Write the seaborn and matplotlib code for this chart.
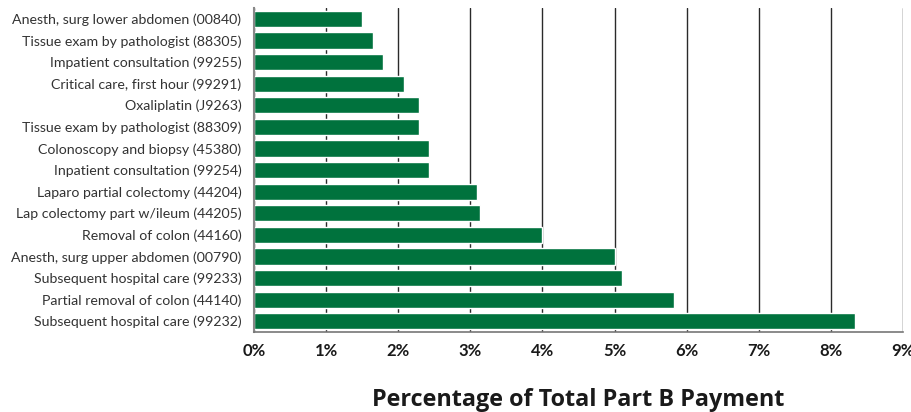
import matplotlib
matplotlib.use("Agg")
import matplotlib.pyplot as plt
import seaborn as sns
import pandas as pd
import numpy as np

procedures = [
    "Anesth, surg lower abdomen (00840)",
    "Tissue exam by pathologist (88305)",
    "Impatient consultation (99255)",
    "Critical care, first hour (99291)",
    "Oxaliplatin (J9263)",
    "Tissue exam by pathologist (88309)",
    "Colonoscopy and biopsy (45380)",
    "Inpatient consultation (99254)",
    "Laparo partial colectomy (44204)",
    "Lap colectomy part w/ileum (44205)",
    "Removal of colon (44160)",
    "Anesth, surg upper abdomen (00790)",
    "Subsequent hospital care (99233)",
    "Partial removal of colon (44140)",
    "Subsequent hospital care (99232)",
]
pct = [1.50, 1.65, 1.79, 2.08, 2.29, 2.29, 2.43, 2.43, 3.09, 3.14, 4.00, 5.00, 5.11, 5.83, 8.33]
xticks = list(range(0, 10))
xtick_labels = [f"{t}%" for t in xticks]

df = pd.DataFrame({"proc": procedures, "pct": pct})

sns.set_style("white")
plt.rcParams["font.family"] = ["Lato", "DejaVu Sans"]

fig = plt.figure(figsize=(9.12, 4.12), dpi=100)
ax = fig.add_axes([254 / 912, 80 / 412, (903 - 254) / 912, (404 - 80) / 412])

sns.barplot(data=df, x="pct", y="proc", orient="h", color="#00723d",
            saturation=1, width=0.75, ax=ax, zorder=2)

ax.set_xlim(0, 9)
ax.set_ylim(14.5, -0.5)
ax.set_xticks(xticks)
ax.set_xticklabels(xtick_labels, fontsize=12, fontweight="bold", color="#1a1a1a")
ax.xaxis.grid(True, color="#2a2a2a", linewidth=1.0, zorder=0)
ax.set_axisbelow(True)
ax.yaxis.grid(False)

ax.tick_params(axis="y", which="major", length=0, labelsize=10.2, colors="#333333", pad=9)
ax.set_yticks(np.arange(-0.5, 15, 1), minor=True)
ax.tick_params(axis="y", which="minor", length=4, width=1, color="#555555", direction="out")
ax.tick_params(axis="x", which="major", length=4, width=1, color="#444444", direction="out", pad=4)

for s in ["top", "right"]:
    ax.spines[s].set_visible(False)
ax.spines["left"].set_color("#888888")
ax.spines["left"].set_linewidth(1.5)
ax.spines["bottom"].set_color("#777777")
ax.spines["bottom"].set_linewidth(1.2)

ax.set_ylabel("")
ax.set_xlabel("Percentage of Total Part B Payment", fontsize=16.8, fontweight="bold",
              color="#1a1a1a", labelpad=21, family=["Open Sans", "DejaVu Sans"])

fig.savefig("out.png", dpi=100)
